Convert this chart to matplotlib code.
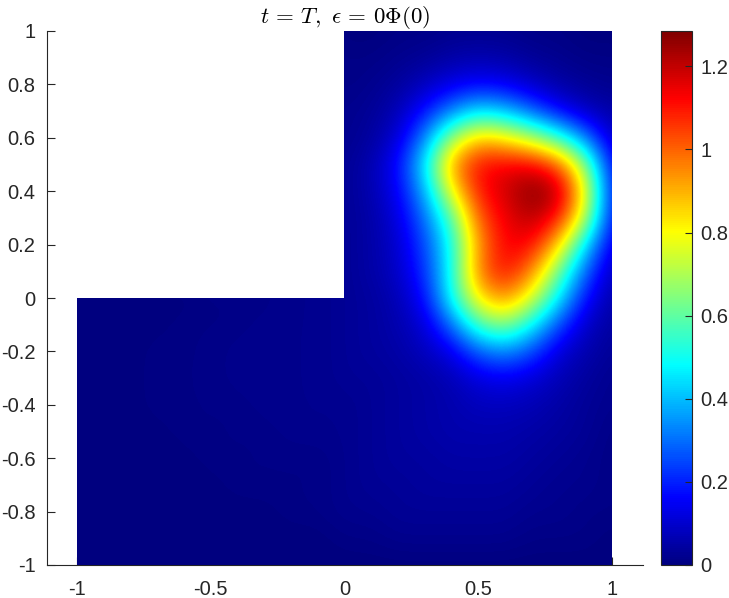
import matplotlib

matplotlib.use("Agg")
import matplotlib.pyplot as plt
import numpy as np
from matplotlib.colors import LinearSegmentedColormap
from matplotlib.patches import Polygon

plt.rcParams["font.family"] = ["Liberation Sans", "DejaVu Sans"]
plt.rcParams["mathtext.fontset"] = "cm"
plt.rcParams["axes.unicode_minus"] = False

n = np.nan

X_VALUES = [round(-1 + 0.1 * i, 1) for i in range(21)]
Y_VALUES = [round(1 - 0.1 * i, 1) for i in range(21)]

# solution on the left half, x = -1 .. -0.1, rows from y = 1 down to y = -1
LEFT_HALF = [
    [n] * 10, [n] * 10, [n] * 10, [n] * 10, [n] * 10,
    [n] * 10, [n] * 10, [n] * 10, [n] * 10, [n] * 10,
    [0.00, 0.00, 0.00, 0.00, 0.00, 0.01, 0.01, 0.01, 0.02, 0.02],
    [0.00, 0.00, 0.00, 0.00, 0.01, 0.01, 0.01, 0.02, 0.02, 0.02],
    [0.00, 0.00, 0.00, 0.01, 0.01, 0.01, 0.02, 0.02, 0.02, 0.02],
    [0.00, 0.00, 0.00, 0.01, 0.01, 0.01, 0.02, 0.02, 0.02, 0.02],
    [0.00, 0.00, 0.00, 0.01, 0.01, 0.01, 0.01, 0.02, 0.02, 0.02],
    [0.00, 0.00, 0.00, 0.00, 0.01, 0.01, 0.01, 0.01, 0.02, 0.02],
    [0.00, 0.00, 0.00, 0.00, 0.00, 0.01, 0.01, 0.01, 0.01, 0.01],
    [0.00, 0.00, 0.00, 0.00, 0.00, 0.00, 0.01, 0.01, 0.01, 0.01],
    [0.00, 0.00, 0.00, 0.00, 0.00, 0.00, 0.00, 0.00, 0.01, 0.01],
    [0.00, 0.00, 0.00, 0.00, 0.00, 0.00, 0.00, 0.00, 0.00, 0.00],
    [0.00, 0.00, 0.00, 0.00, 0.00, 0.00, 0.00, 0.00, 0.00, 0.00],
]

# right half, x = 0 .. 1, same rows
RIGHT_HALF = [
    [0.00, 0.00, 0.01, 0.01, 0.02, 0.02, 0.02, 0.01, 0.01, 0.00, 0.00],
    [0.01, 0.01, 0.02, 0.03, 0.05, 0.06, 0.05, 0.03, 0.02, 0.01, 0.01],
    [0.01, 0.02, 0.04, 0.08, 0.13, 0.16, 0.14, 0.09, 0.05, 0.03, 0.02],
    [0.02, 0.03, 0.07, 0.18, 0.33, 0.45, 0.40, 0.28, 0.16, 0.08, 0.05],
    [0.02, 0.04, 0.11, 0.33, 0.68, 0.88, 0.82, 0.70, 0.54, 0.32, 0.08],
    [0.03, 0.06, 0.17, 0.46, 0.94, 1.12, 1.14, 1.14, 1.02, 0.66, 0.14],
    [0.03, 0.06, 0.15, 0.38, 0.80, 1.10, 1.18, 1.285, 1.22, 0.80, 0.16],
    [0.03, 0.05, 0.12, 0.30, 0.58, 1.02, 1.14, 1.22, 1.10, 0.72, 0.15],
    [0.03, 0.05, 0.10, 0.25, 0.50, 0.94, 1.14, 1.12, 0.86, 0.44, 0.11],
    [0.03, 0.05, 0.09, 0.22, 0.50, 0.98, 1.12, 0.96, 0.62, 0.28, 0.07],
    [0.03, 0.04, 0.07, 0.17, 0.50, 0.84, 0.96, 0.76, 0.46, 0.17, 0.05],
    [0.03, 0.04, 0.06, 0.11, 0.30, 0.58, 0.66, 0.48, 0.25, 0.09, 0.04],
    [0.03, 0.04, 0.05, 0.08, 0.13, 0.28, 0.34, 0.25, 0.11, 0.06, 0.03],
    [0.03, 0.03, 0.04, 0.05, 0.07, 0.12, 0.14, 0.11, 0.07, 0.04, 0.02],
    [0.02, 0.03, 0.04, 0.05, 0.06, 0.08, 0.08, 0.07, 0.05, 0.03, 0.02],
    [0.02, 0.03, 0.04, 0.05, 0.06, 0.06, 0.06, 0.05, 0.04, 0.03, 0.01],
    [0.02, 0.03, 0.04, 0.04, 0.05, 0.05, 0.05, 0.04, 0.03, 0.02, 0.01],
    [0.02, 0.03, 0.03, 0.04, 0.04, 0.04, 0.04, 0.03, 0.02, 0.02, 0.01],
    [0.02, 0.02, 0.03, 0.03, 0.03, 0.03, 0.03, 0.02, 0.02, 0.01, 0.01],
    [0.01, 0.01, 0.02, 0.02, 0.02, 0.02, 0.02, 0.01, 0.01, 0.01, 0.00],
    [0.00, 0.00, 0.00, 0.00, 0.00, 0.00, 0.00, 0.00, 0.00, 0.00, 0.00],
]

X_TICKS = [-1, -0.5, 0, 0.5, 1]
X_TICK_LABELS = ["-1", "-0.5", "0", "0.5", "1"]
Y_TICKS = [-1, -0.8, -0.6, -0.4, -0.2, 0, 0.2, 0.4, 0.6, 0.8, 1]
Y_TICK_LABELS = ["-1", "-0.8", "-0.6", "-0.4", "-0.2", "0", "0.2", "0.4", "0.6", "0.8", "1"]
CBAR_TICKS = [0, 0.2, 0.4, 0.6, 0.8, 1, 1.2]
CBAR_TICK_LABELS = ["0", "0.2", "0.4", "0.6", "0.8", "1", "1.2"]
DOMAIN = [(-1, 0), (0, 0), (0, 1), (1, 1), (1, -1), (-1, -1)]

# MATLAB flavour of jet, matplotlib's own has its knots slightly elsewhere
JET_STOPS = [
    (0.0, (0, 0, 0.5)),
    (0.125, (0, 0, 1)),
    (0.375, (0, 1, 1)),
    (0.625, (1, 1, 0)),
    (0.875, (1, 0, 0)),
    (1.0, (0.5, 0, 0)),
]

VMAX = 1.285
DARK = "#262626"
W, H = 729, 598


def px_axes(fig, left, right, top, bottom):
    return fig.add_axes([left / W, 1 - bottom / H, (right - left) / W, (bottom - top) / H])


def main():
    field = np.hstack([np.array(LEFT_HALF), np.array(RIGHT_HALF)])
    # the cut-out corner is hidden by the clip path, it just needs a value for the interpolation
    field = np.where(np.isnan(field), 0.02, field)
    cmap = LinearSegmentedColormap.from_list("matlab_jet", JET_STOPS, N=256)

    fig = plt.figure(figsize=(W / 100, H / 100), dpi=100)
    ax = px_axes(fig, 46.5, 642.7, 31, 565)
    ax.set_xlim(-1.114, 1.115)
    ax.set_ylim(-1, 1)

    img = ax.imshow(
        field,
        extent=[X_VALUES[0] - 0.05, X_VALUES[-1] + 0.05, Y_VALUES[-1] - 0.05, Y_VALUES[0] + 0.05],
        cmap=cmap,
        vmin=0,
        vmax=VMAX,
        interpolation="bicubic",
        aspect="auto",
        zorder=3,
    )
    img.set_clip_path(Polygon(DOMAIN, closed=True, transform=ax.transData))

    ax.spines["top"].set_visible(False)
    ax.spines["right"].set_visible(False)
    for side in ["left", "bottom"]:
        ax.spines[side].set_color(DARK)
        ax.spines[side].set_linewidth(0.8)
    ax.set_axisbelow(True)
    ax.set_xticks(X_TICKS, X_TICK_LABELS)
    ax.set_yticks(Y_TICKS, Y_TICK_LABELS)
    ax.tick_params(direction="in", length=6, width=0.8, color=DARK, labelcolor=DARK, labelsize=14.5)
    ax.tick_params(axis="x", pad=11)
    ax.tick_params(axis="y", pad=8)
    ax.set_title(r"$t\,=\,T,\ \epsilon\,=\,0\Phi(0)$", fontsize=16.5, pad=3, color="black")

    cax = px_axes(fig, 661, 692, 31, 565)
    cbar = fig.colorbar(img, cax=cax)
    cbar.set_ticks(CBAR_TICKS, labels=CBAR_TICK_LABELS)
    cbar.ax.tick_params(direction="in", length=5, width=0.8, color=DARK, labelcolor=DARK, labelsize=14.5, pad=6)
    cbar.outline.set_edgecolor(DARK)
    cbar.outline.set_linewidth(0.8)

    fig.savefig("out.png", dpi=100)


if __name__ == "__main__":
    main()
